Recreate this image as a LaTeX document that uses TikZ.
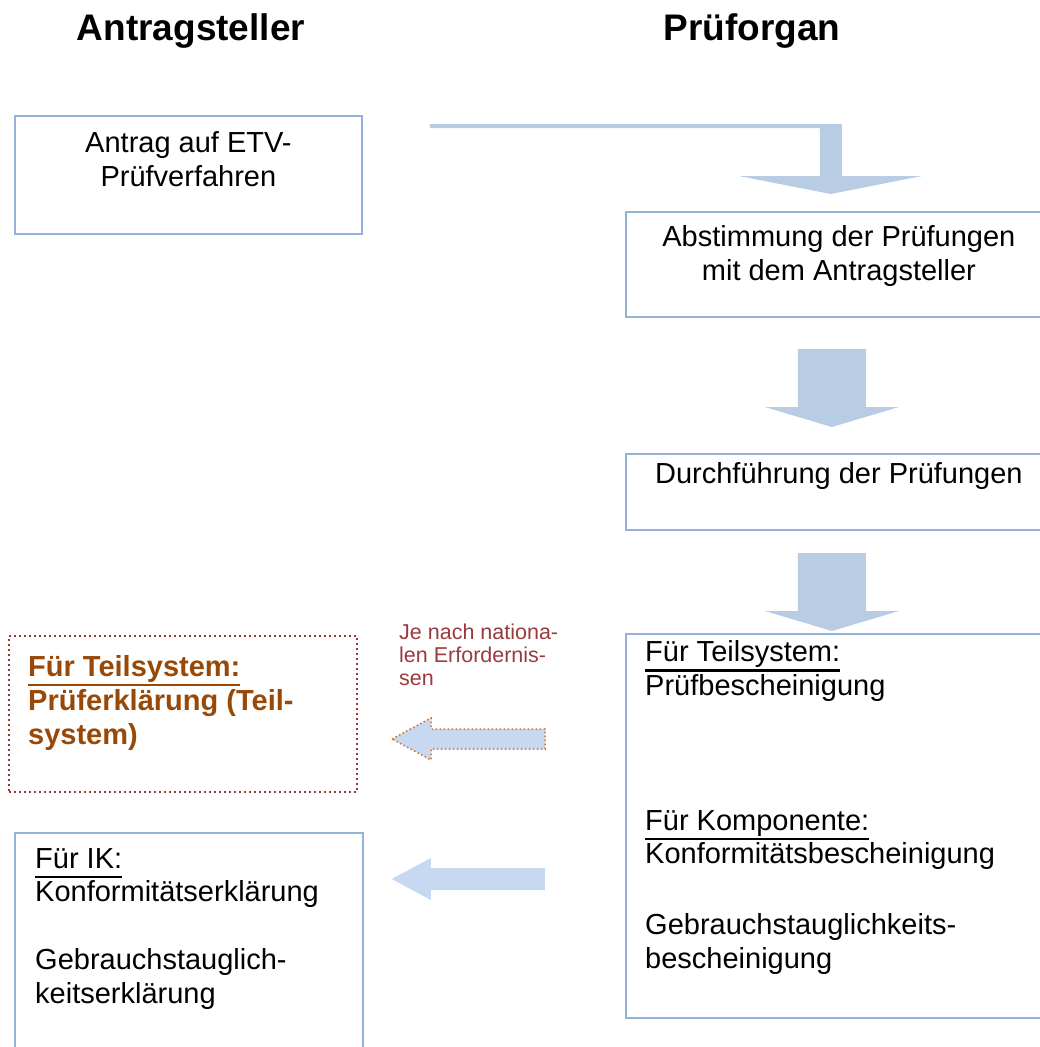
\documentclass[tikz,border=0pt]{standalone}
\usepackage{fontspec}
\setmainfont{Liberation Sans}
\usepackage{xcolor}
\usepackage{tikz}
\usetikzlibrary{shapes,arrows,positioning,calc}

\definecolor{boxblue}{HTML}{95B3D7}
\definecolor{arrowblue}{HTML}{B8CCE4}
\definecolor{lightarrow}{HTML}{C6D9F1}
\definecolor{dotred}{HTML}{953735}
\definecolor{notered}{HTML}{9B3A3C}
\definecolor{textbrown}{HTML}{984807}
\definecolor{dotorange}{HTML}{E46C0A}

\newcommand{\undl}[1]{\setbox0\hbox{#1}\rlap{\rule[-10pt]{\wd0}{2.5pt}}\box0}

\begin{document}
\begin{tikzpicture}[x=1pt, y=-1pt]

% Define block styles
\tikzstyle{block} = [draw=boxblue, line width=1.8pt, rectangle, anchor=north west, inner sep=0pt]
\tikzstyle{dotblock} = [draw=dotred, line width=2pt, dash pattern=on 2pt off 3pt, rectangle, anchor=north west, inner sep=0pt]
\tikzstyle{head} = [font=\fontsize{37}{44}\selectfont\bfseries, anchor=base, inner sep=0pt]
\tikzstyle{txt} = [font=\fontsize{29}{33.5}\selectfont, anchor=base, inner sep=0pt, align=center] % base = last line
\tikzstyle{txtl} = [txt, anchor=base west, align=left]
\tikzstyle{note} = [font=\fontsize{21.5}{23}\selectfont, text=notered, anchor=base west, inner sep=0pt, align=left]
\tikzstyle{downarrow} = [fill=arrowblue]
\tikzstyle{leftarrow} = [fill=lightarrow]

\useasboundingbox (0,0) rectangle (1039,1047);

% Nodes
\node [head] (antragsteller) at (191,40) {Antragsteller};
\node [head] (pruforgan) at (752,40) {Prüforgan};

\node [block, minimum width=347pt, minimum height=118pt] (antrag) at (14,115) {};
\node [txt] (antragtxt) at ($(antrag.north)+(0,71)$) {Antrag auf ETV-\\Prüfverfahren};

\node [block, minimum width=426pt, minimum height=105pt] (abst) at (625,211) {}; % runs off the right edge
\node [txt] (absttxt) at ($(abst.north)+(0,69)$) {Abstimmung der Prüfungen\\mit dem Antragsteller};

\node [block, minimum width=426pt, minimum height=76pt] (durch) at (625,453) {};
\node [txt] (durchtxt) at ($(durch.north)+(0,30)$) {Durchführung der Prüfungen};

\node [block, minimum width=426pt, minimum height=384pt] (pruef) at (625,633) {};
\node [txtl] (prueftxt) at ($(pruef.north west)+(20,335)$) {\undl{Für Teilsystem:}\\Prüfbescheinigung\\[101.5pt]
  \undl{Für Komponente:}\\Konformitätsbescheinigung\\[37.5pt]
  Gebrauchstauglichkeits-\\bescheinigung};

\node [dotblock, minimum width=348pt, minimum height=156pt] (teilsys) at (8,635) {};
\node [txtl, font=\fontsize{29}{34}\selectfont\bfseries, text=textbrown] (teilsystxt) at ($(teilsys.north west)+(20,109)$) {\undl{Für Teilsystem:}\\Prüferklärung (Teil-\\system)};
\node [note] (national) at ($(teilsys.north east)+(41,50)$) {Je nach nationa-\\len Erfordernis-\\sen};

\node [block, minimum width=348pt, minimum height=240pt] (ik) at (14,832) {}; % runs off the bottom edge
\node [txtl] (iktxt) at ($(ik.north west)+(21,171)$) {\undl{Für IK:}\\Konformitätserklärung\\[34.5pt]
  Gebrauchstauglich-\\keitserklärung};

% Connections
\coordinate (toptip) at ($(abst.north)+(-8,-17)$);
\fill [downarrow] (toptip) -- ++(91,-18) -- ++(-80,0) -- ++(0,-52) -- ++(-412,0) -- ++(0,4)
  -- ++(390,0) -- ++(0,48) -- ++(-81,0) -- cycle; % antrag to abst, bent
\fill [downarrow] ($(durch.north)+(-7,-26)$) -- ++(67,-20) -- ++(-33,0) -- ++(0,-58) -- ++(-68,0)
  -- ++(0,58) -- ++(-33,0) -- cycle; % abst to durch
\fill [downarrow] ($(pruef.north)+(-7,-2)$) -- ++(67,-20) -- ++(-33,0) -- ++(0,-58) -- ++(-68,0)
  -- ++(0,58) -- ++(-33,0) -- cycle; % durch to pruef
\filldraw [leftarrow, draw=dotorange, line width=1.5pt, dash pattern=on 1.5pt off 2.5pt]
  ($(teilsys.east)+(34,25)$) -- ++(39,-21) -- ++(0,11) -- ++(114,0) -- ++(0,20) -- ++(-114,0)
  -- ++(0,11) -- cycle; % pruef to teilsys, dotted
\fill [leftarrow] ($(ik.north east)+(28,47)$) -- ++(39,-21) -- ++(0,10) -- ++(114,0) -- ++(0,22)
  -- ++(-114,0) -- ++(0,10) -- cycle; % pruef to ik

\end{tikzpicture}
\end{document}
